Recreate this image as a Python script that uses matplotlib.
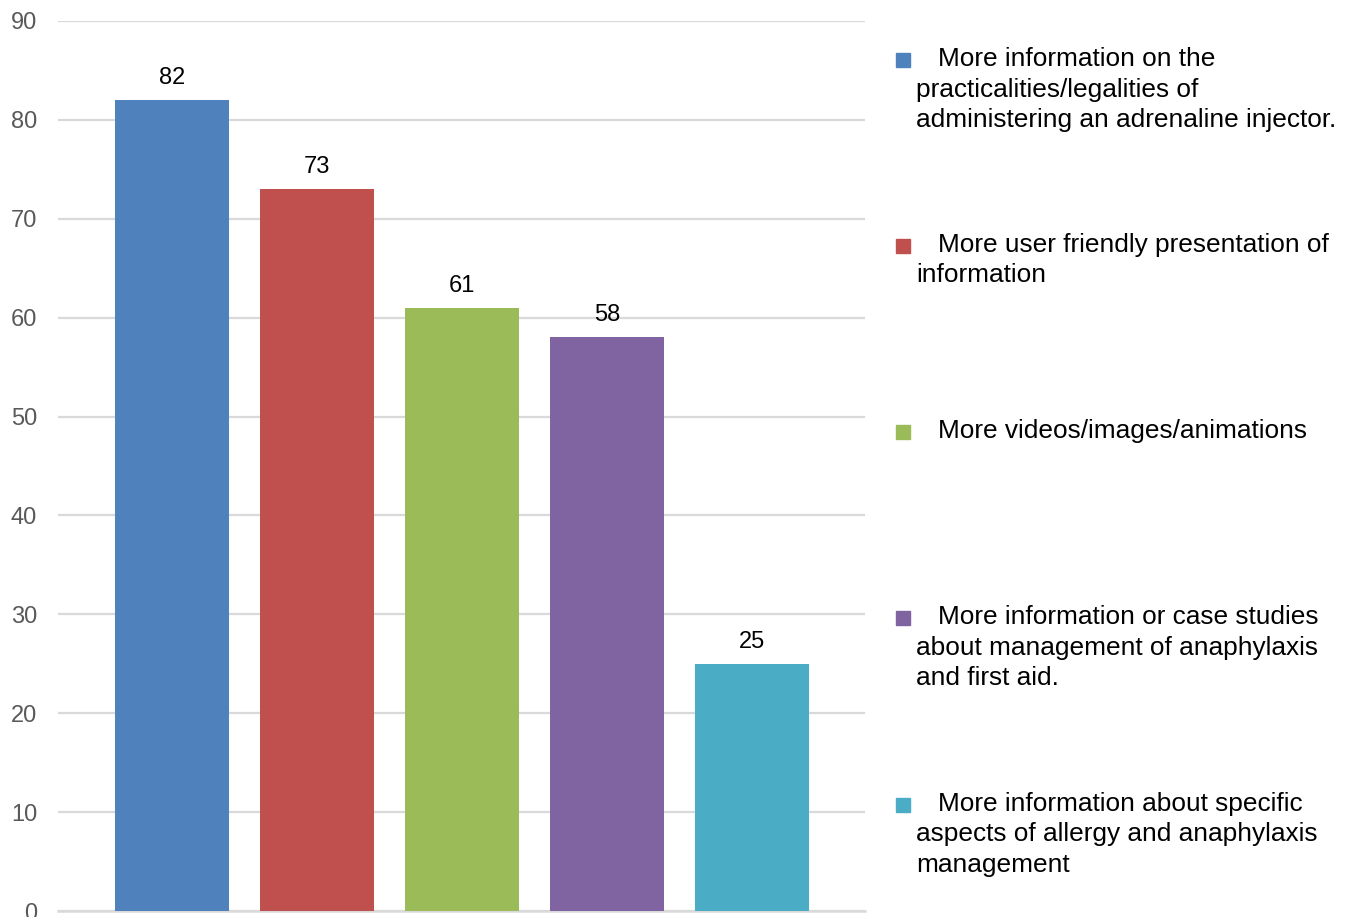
import matplotlib
matplotlib.use("Agg")
import matplotlib.pyplot as plt
from matplotlib.patches import Rectangle

plt.rcParams['font.family'] = ['Liberation Sans', 'DejaVu Sans']

categories = [
    ["More information on the", "practicalities/legalities of", "administering an adrenaline injector."],
    ["More user friendly presentation of", "information"],
    ["More videos/images/animations"],
    ["More information or case studies", "about management of anaphylaxis", "and first aid."],
    ["More information about specific", "aspects of allergy and anaphylaxis", "management"],
]
values = [82, 73, 61, 58, 25]
colors = ["#4F81BD", "#C0504D", "#9BBB59", "#8064A2", "#4BACC6"]
yticks = [0, 10, 20, 30, 40, 50, 60, 70, 80, 90]

W, H = 1350, 917
fig = plt.figure(figsize=(W / 100, H / 100), dpi=100)
ax = fig.add_axes([58 / W, (H - 911) / H, (865 - 58) / W, (911 - 21) / H])

x = list(range(len(values)))
bars = ax.bar(x, values, width=114 / 145, color=colors, zorder=3)
ax.set_xlim((58 - 172) / 145, (865 - 172) / 145)
ax.set_ylim(0, 90)
ax.set_yticks(yticks)
ax.set_xticks([])
ax.yaxis.grid(True, color="#D9D9D9", linewidth=1.6, zorder=0)
for s in ["top", "right", "left"]:
    ax.spines[s].set_visible(False)
ax.spines["bottom"].set_color("#D9D9D9")
ax.spines["bottom"].set_linewidth(1.8)
ax.tick_params(axis="y", length=0, pad=15, labelsize=17, labelcolor="#595959")

for xi, v in zip(x, values):
    ax.annotate(str(v), (xi, v), xytext=(0, 8), textcoords="offset points",
                ha="center", va="bottom", fontsize=17, color="black")

# legend drawn manually
first_y = [59, 245, 431, 617, 804]
line_h = 30.5
for lines, c, y0 in zip(categories, colors, first_y):
    fig.patches.append(Rectangle((896 / W, (H - y0 - 8) / H), 14 / W, 14 / H,
                                 transform=fig.transFigure, color=c))
    for i, ln in enumerate(lines):
        xx = 938 if i == 0 else 916
        fig.text(xx / W, (H - (y0 + i * line_h)) / H, ln, ha="left", va="center",
                 fontsize=18.9, color="black")

fig.savefig("out.png", dpi=100)
